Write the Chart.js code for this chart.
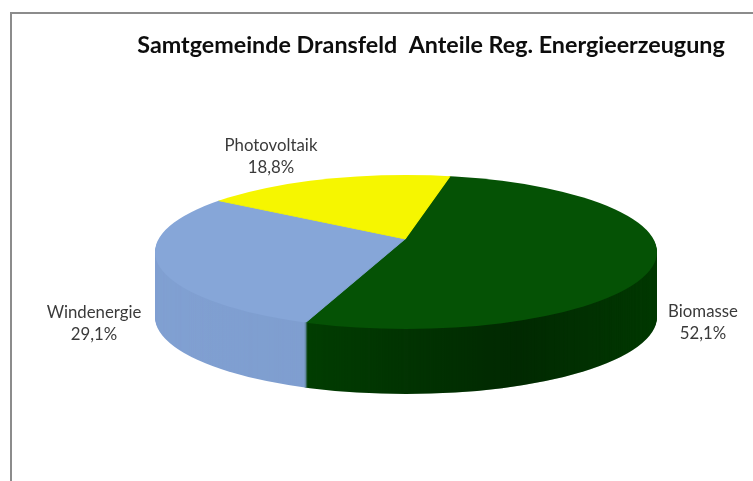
<!DOCTYPE html>
<html><head><meta charset="utf-8">
<script src="https://cdn.jsdelivr.net/npm/chart.js@4"></script>
<style>
html,body{margin:0;padding:0;background:#fff;overflow:hidden}
#frame{position:absolute;left:10px;top:12px;right:0;bottom:0;border-left:2px solid #8c8c8c;border-top:2px solid #8c8c8c}
#wrap{position:absolute;left:0;top:0;width:753px;height:481px}
</style></head><body>
<div id="frame"></div>
<div id="wrap"><canvas id="c" width="753" height="481"></canvas></div>
<script>
const titleText = 'Samtgemeinde Dransfeld  Anteile Reg. Energieerzeugung';
const categories = ['Biomasse', 'Windenergie', 'Photovoltaik'];
const shares = [52.1, 29.1, 18.8];
const shareLabels = ['52,1%', '29,1%', '18,8%'];
const topColors = ['#055205', '#86a6d8', '#f6f600'];
const wallColors = ['#024002', '#80a0d2', '#b8b800'];

const apex = {x: 405, y: 239};
const rim = {x: 406, y: 252, rx: 251, ry: 77};
const tilt = 0.3, circleRadius = 340, depth = 65;
const labelCentres = [{x: 703, y: 312}, {x: 94, y: 313}, {x: 271, y: 146}];
const labelLineGap = 22;

function rimPath(ctx, dy) {
  ctx.beginPath();
  ctx.ellipse(rim.x, rim.y + dy, rim.rx, rim.ry, 0, 0, Math.PI * 2);
}
function project(ctx, el) {
  const k = circleRadius / el.outerRadius;
  ctx.translate(apex.x, apex.y);
  ctx.scale(k, k * tilt);
  ctx.translate(-el.x, -el.y);
}
const pie3d = {
  id: 'pie3d',
  afterLayout(chart) {
    const t = chart.titleBlock;
    t.left = 137; t.right = 725; t.top = 31;
  },
  beforeDatasetDraw(chart, args) {
    const ctx = chart.ctx, els = args.meta.data;
    // side wall: the same arcs repeated downwards in the wall colours
    for (let d = depth; d >= 1; d--) {
      ctx.save();
      rimPath(ctx, d); ctx.clip();
      ctx.translate(0, d);
      project(ctx, els[0]);
      els.forEach((el, i) => {
        const o = el.options, saved = o;
        el.options = Object.assign(Object.create(o), {backgroundColor: wallColors[i], borderColor: wallColors[i]});
        el.draw(ctx);
        el.options = saved;
      });
      ctx.restore();
    }
    // shading on the wall
    ctx.save();
    ctx.beginPath();
    ctx.ellipse(rim.x, rim.y + depth, rim.rx, rim.ry, 0, 0, Math.PI);
    ctx.lineTo(rim.x - rim.rx, rim.y);
    ctx.lineTo(rim.x + rim.rx, rim.y);
    ctx.closePath();
    ctx.clip();
    const g = ctx.createLinearGradient(rim.x - rim.rx, 0, rim.x + rim.rx, 0);
    g.addColorStop(0, 'rgba(0,0,0,0)');
    g.addColorStop(0.3, 'rgba(0,0,0,0.01)');
    g.addColorStop(0.305, 'rgba(0,0,0,0.05)');
    g.addColorStop(0.72, 'rgba(0,0,0,0.36)');
    g.addColorStop(1, 'rgba(0,0,0,0.12)');
    ctx.fillStyle = g;
    ctx.fillRect(rim.x - rim.rx - 2, rim.y - 5, rim.rx * 2 + 4, rim.ry + depth + 10);
    ctx.restore();
    // top surface
    ctx.save();
    rimPath(ctx, 0); ctx.clip();
    project(ctx, els[0]);
  },
  afterDatasetDraw(chart) {
    chart.ctx.restore();
  },
  afterDraw(chart) {
    const ctx = chart.ctx;
    ctx.save();
    ctx.font = '16.8px Lato';
    ctx.fillStyle = '#3a3a3a';
    ctx.textAlign = 'center';
    ctx.textBaseline = 'middle';
    categories.forEach((name, i) => {
      const p = labelCentres[i];
      ctx.fillText(name, p.x, p.y);
      ctx.fillText(shareLabels[i], p.x, p.y + labelLineGap);
    });
    ctx.restore();
  }
};
new Chart(document.getElementById('c'), {
  type: 'pie',
  data: {
    labels: categories,
    datasets: [{
      data: shares,
      backgroundColor: topColors,
      borderColor: topColors,
      borderWidth: 1,
      clip: false
    }]
  },
  options: {
    responsive: false,
    animation: false,
    rotation: 12.1,
    plugins: {
      legend: {display: false},
      tooltip: {enabled: false},
      title: {
        display: true,
        text: titleText,
        color: '#0d0d0d',
        padding: 0,
        font: {family: 'Lato', size: 23.3, weight: 'bold'}
      }
    }
  },
  plugins: [pie3d]
});
</script>
</body></html>
